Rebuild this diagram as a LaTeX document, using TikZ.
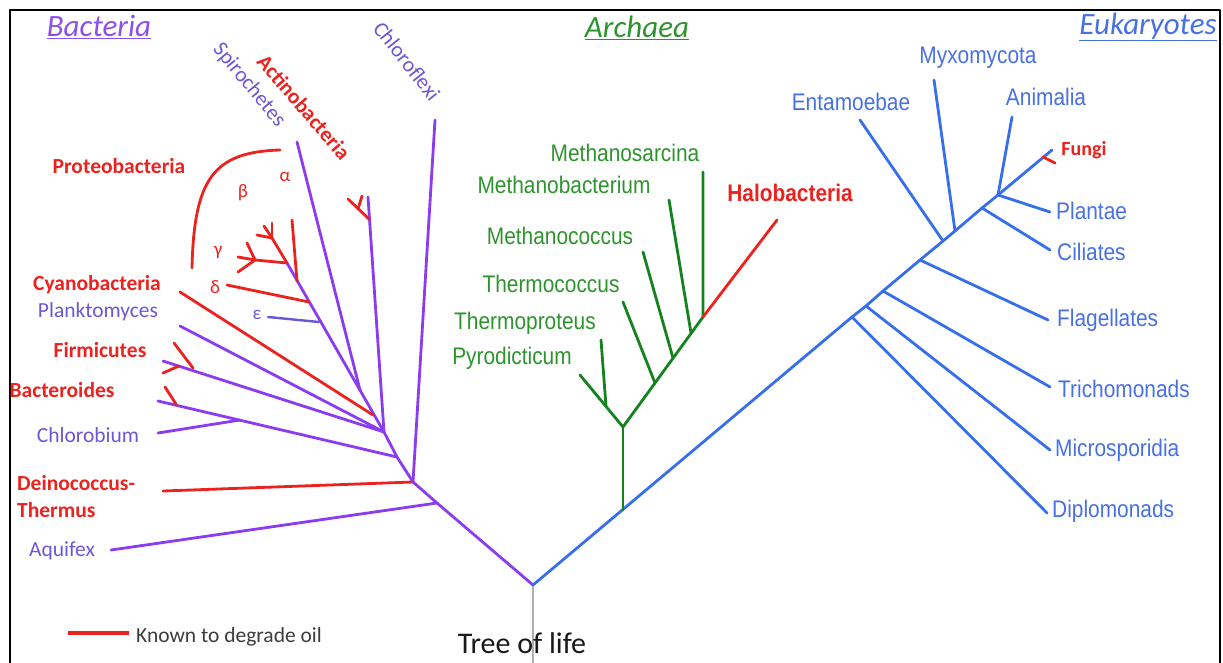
\documentclass[tikz,border=0pt]{standalone}
\usepackage{fontspec}
\usepackage{graphicx}
\setmainfont{Carlito}
\newfontfamily\arialf{Liberation Sans}
\newcommand{\mysq}[1]{\scalebox{0.87}[1]{#1}}
\definecolor{pline}{RGB}{140,60,240}
\definecolor{ptext}{RGB}{105,88,212}
\definecolor{ptitle}{RGB}{140,80,235}
\definecolor{redc}{RGB}{236,34,30}
\definecolor{gline}{RGB}{22,130,30}
\definecolor{gtext}{RGB}{45,148,45}
\definecolor{bline}{RGB}{55,110,235}
\definecolor{btext}{RGB}{72,112,230}
\definecolor{legtext}{RGB}{60,60,60}
\begin{document}
\begin{tikzpicture}[x=1pt,y=-1pt,line cap=round,line join=round,
  br/.style={line width=2.8pt},
  pbr/.style={br,draw=pline},
  rbr/.style={br,draw=redc},
  gbr/.style={br,draw=gline},
  bbr/.style={br,draw=bline},
  ebr/.style={line width=2.4pt,draw=ptext},
  title/.style={font=\fontsize{31}{31}\selectfont\itshape,inner sep=0pt},
  cal/.style={font=\fontsize{21.5}{22}\selectfont,inner sep=0pt},
  calb/.style={font=\fontsize{21.5}{22}\selectfont\bfseries,inner sep=0pt},
  ari/.style={font=\fontsize{24}{24}\arialf\selectfont,inner sep=0pt},
  arib/.style={font=\fontsize{24}{24}\arialf\bfseries\selectfont,inner sep=0pt},
  greek/.style={font=\fontsize{19}{19}\selectfont,inner sep=0pt}
]
\useasboundingbox (0,0) rectangle (1223,662);
% frame
\draw[line width=2.5pt,black] (10,670) -- (10,10) -- (1220,10) -- (1220,670);

% ---------- coordinates ----------
\coordinate (root) at (533,585);
\coordinate (stem) at (533,664);
% bacteria
\coordinate (bA) at (437,503);
\coordinate (bD) at (413,482);
\coordinate (bJ2) at (397,457);
\coordinate (bJ3) at (384,432);
\coordinate (bP) at (360,390);
\coordinate (bG) at (287,263);
\coordinate (aqT) at (111,550);
\coordinate (deT) at (163,491);
\coordinate (chfT) at (435,120);
\coordinate (bacT) at (158,401);
\coordinate (chlJ) at (240,420);
\coordinate (chlT) at (158,433);
\coordinate (plT) at (180,326);
\coordinate (fiT) at (163,361);
\coordinate (cyS) at (373,415);
\coordinate (cyT) at (180,292);
\coordinate (acT) at (368,197);
\coordinate (spT) at (297,142);
\coordinate (fr1) at (174,343);
\coordinate (fr2) at (193,368);
\coordinate (fr3) at (163,373);
\coordinate (fr4) at (179,366);
\coordinate (bc1) at (165,387);
\coordinate (bc2) at (176,404);
\coordinate (ac1) at (348,199);
\coordinate (ac2) at (369,219);
\coordinate (ac3) at (358,209);
\coordinate (ac4) at (362,196);
\coordinate (beT) at (292,220);
\coordinate (beS) at (297,281);
\coordinate (deltaT) at (227,285);
\coordinate (deltaS) at (309,302);
\coordinate (epT) at (268,317);
\coordinate (epS) at (319,322);
\coordinate (gu) at (272,238);
\coordinate (gu1) at (257,235);
\coordinate (gu2) at (264,226);
\coordinate (gu3) at (272,223);
\coordinate (gl) at (255,260);
\coordinate (gl1) at (247,243);
\coordinate (gl2) at (238,272);
\coordinate (gl3) at (238,257);
\coordinate (arcA) at (192,268);
\coordinate (arcB) at (280,150);
% archaea
\coordinate (aJ) at (623,510);
\coordinate (aB) at (623,427);
\coordinate (pyT) at (580,375);
\coordinate (thpJ) at (606,406);
\coordinate (thpT) at (601,340);
\coordinate (tcJ) at (655,383);
\coordinate (tcT) at (623,302);
\coordinate (mcJ) at (673,358);
\coordinate (mcT) at (643,252);
\coordinate (mbJ) at (691,333);
\coordinate (mbT) at (669,200);
\coordinate (msJ) at (703,317);
\coordinate (msT) at (703,172);
\coordinate (haT) at (777,220);
% eukaryotes
\coordinate (ePl) at (998,195);
\coordinate (eDi) at (852,317);
\coordinate (eMi) at (866,306);
\coordinate (eTr) at (883,291);
\coordinate (eFl) at (920,260);
\coordinate (eEn) at (943,241);
\coordinate (eMy) at (955,231);
\coordinate (eCi) at (982,208);
\coordinate (fuT) at (1052,150);
\coordinate (fu1) at (1043,157);
\coordinate (fu2) at (1055,163);
\coordinate (entT) at (860,120);
\coordinate (myxT) at (934,80);
\coordinate (aniT) at (1012,117);
\coordinate (plaT) at (1050,212);
\coordinate (cilT) at (1050,250);
\coordinate (flaT) at (1048,320);
\coordinate (triT) at (1050,387);
\coordinate (micT) at (1050,450);
\coordinate (dipT) at (1047,513);
\coordinate (legA) at (68,633);
\coordinate (legB) at (129,633);

% ---------- stem ----------
\draw[line width=1.6pt,draw={rgb,255:red,175;green,175;blue,175}] (root) -- (stem);

% ---------- bacteria ----------
\draw[pbr] (root) -- (bA) -- (bD) -- (bJ2) -- (bJ3);
\draw[pbr] (bA) -- (aqT);
\draw[rbr] (bD) -- (deT);
\draw[pbr] (bD) -- (chfT);
\draw[pbr] (bJ2) -- (bacT);
\draw[pbr] (chlJ) -- (chlT);
\draw[rbr] (bc1) -- (bc2);
\draw[pbr] (bJ3) -- (fiT);
\draw[rbr] (fr1) -- (fr2);
\draw[rbr] (fr3) -- (fr4);
\draw[pbr] (bJ3) -- (plT);
\draw[pbr] (bJ3) -- (acT);
\draw[rbr] (ac1) -- (ac2);
\draw[rbr] (ac3) -- (ac4);
\draw[pbr] (bJ3) -- (bG);
\draw[pbr] (bP) -- (spT);
\draw[rbr] (cyS) -- (cyT);
\draw[rbr] (beS) -- (beT);
\draw[rbr] (deltaS) -- (deltaT);
\draw[ebr] (epS) -- (epT);
\draw[rbr] (bG) -- (gu);
\draw[rbr] (gu) -- (gu1);
\draw[rbr] (gu) -- (gu2);
\draw[rbr] (gu) -- (gu3);
\draw[rbr] (bG) -- (gl);
\draw[rbr] (gl) -- (gl1);
\draw[rbr] (gl) -- (gl2);
\draw[rbr] (gl) -- (gl3);
\draw[rbr] (arcA) .. controls (194,178) and (214,152) .. (arcB);

% ---------- archaea ----------
\draw[bbr] (root) -- (eDi) -- (eMi) -- (eTr) -- (eFl) -- (eEn) -- (eMy) -- (eCi) -- (ePl) -- (fuT);
\draw[gbr] (aJ) -- (aB);
\draw[gbr] (aB) -- (pyT);
\draw[gbr] (thpJ) -- (thpT);
\draw[gbr] (aB) -- (msJ) -- (msT);
\draw[gbr] (tcJ) -- (tcT);
\draw[gbr] (mcJ) -- (mcT);
\draw[gbr] (mbJ) -- (mbT);
\draw[rbr] (msJ) -- (haT);

% ---------- eukaryotes ----------
\draw[bbr] (eDi) -- (dipT);
\draw[bbr] (eMi) -- (micT);
\draw[bbr] (eTr) -- (triT);
\draw[bbr] (eFl) -- (flaT);
\draw[bbr] (eEn) -- (entT);
\draw[bbr] (eMy) -- (myxT);
\draw[bbr] (eCi) -- (cilT);
\draw[bbr] (ePl) -- (plaT);
\draw[bbr] (ePl) -- (aniT);
\draw[rbr] (fu1) -- (fu2);

% ---------- legend ----------
\draw[redc,line width=4pt,line cap=butt] (legA) -- (legB);
\node[cal,text=legtext,anchor=west] (legtxt) at (136,637) {Known to degrade oil};

% ---------- titles ----------
\node[title,text=ptitle] (tBac) at (99,27) {\underline{Bacteria}};
\node[title,text=gtext] (tArc) at (637,28) {\underline{Archaea}};
\node[title,text=btext] (tEuk) at (1148,27) {\underline{Eukaryotes}};
\node[font=\fontsize{30}{30}\selectfont,inner sep=0pt,text={rgb,255:red,25;green,25;blue,25}] (tol) at (522,643) {Tree of life};

% ---------- bacteria labels ----------
\node[calb,text=redc] (lPro) at (119,166) {Proteobacteria};
\node[calb,text=redc] (lCya) at (97,285) {Cyanobacteria};
\node[cal,text=ptext] (lPla) at (98,312) {Planktomyces};
\node[calb,text=redc] (lFir) at (100,350) {Firmicutes};
\node[calb,text=redc] (lBac) at (62,390) {Bacteroides};
\node[cal,text=ptext] (lChl) at (88,435) {Chlorobium};
\node[calb,text=redc,anchor=west] (lDei) at (17,483) {Deinococcus-};
\node[calb,text=redc,anchor=west] (lThe) at (17,510) {Thermus};
\node[cal,text=ptext] (lAqu) at (62,551) {Aquifex};
\node[cal,text=ptext,rotate=-50.5] (lSpi) at (249,85) {Spirochetes};
\node[calb,text=redc,rotate=-49.4] (lAct) at (304,107) {Actinobacteria};
\node[cal,text=ptext,rotate=-51.5] (lChf) at (407,61) {Chloroflexi};
\node[greek,text=redc] (lal) at (285,177) {α};
\node[greek,text=redc] (lbe) at (243,193) {β};
\node[greek,text=redc] (lga) at (218,252) {γ};
\node[greek,text=redc] (lde) at (215,287) {δ};
\node[greek,text=ptext] (lep) at (257,315) {ε};

% ---------- archaea labels ----------
\node[ari,text=gtext] (lMs) at (625,153) {\mysq{Methanosarcina}};
\node[ari,text=gtext] (lMb) at (564,185) {\mysq{Methanobacterium}};
\node[ari,text=gtext] (lMc) at (560,236) {\mysq{Methanococcus}};
\node[ari,text=gtext] (lTc) at (551,284) {\mysq{Thermococcus}};
\node[ari,text=gtext] (lTp) at (525,323) {\mysq{Thermoproteus}};
\node[ari,text=gtext] (lPy) at (512,358) {\mysq{Pyrodicticum}};
\node[arib,text=redc] (lHa) at (790,193) {\mysq{Halobacteria}};

% ---------- eukaryote labels ----------
\node[ari,text=btext] (lEn) at (851,102) {\mysq{Entamoebae}};
\node[ari,text=btext] (lMy) at (978,58) {\mysq{Myxomycota}};
\node[ari,text=btext] (lAn) at (1046,97) {\mysq{Animalia}};
\node[font=\fontsize{20}{20}\selectfont\bfseries,inner sep=0pt,text=redc] (lFu) at (1084,150) {Fungi};
\node[ari,text=btext,anchor=west] (lPl) at (1056,211) {\mysq{Plantae}};
\node[ari,text=btext,anchor=west] (lCi) at (1057,252) {\mysq{Ciliates}};
\node[ari,text=btext,anchor=west] (lFl) at (1057,320) {\mysq{Flagellates}};
\node[ari,text=btext,anchor=west] (lTr) at (1058,389) {\mysq{Trichomonads}};
\node[ari,text=btext,anchor=west] (lMi) at (1055,450) {\mysq{Microsporidia}};
\node[ari,text=btext,anchor=west] (lDi) at (1052,511) {\mysq{Diplomonads}};
\end{tikzpicture}
\end{document}
